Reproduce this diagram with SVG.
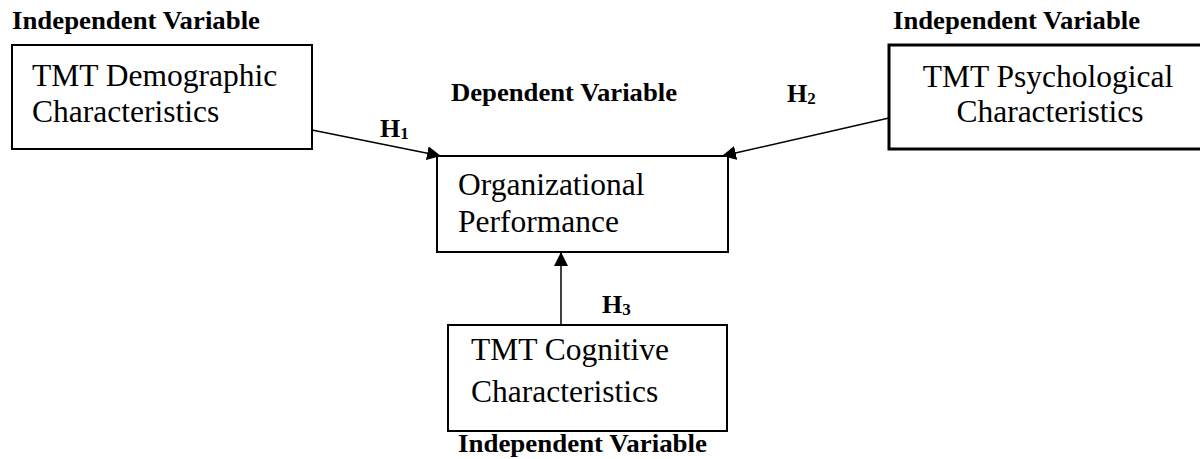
<svg xmlns="http://www.w3.org/2000/svg" width="1200" height="459" viewBox="0 0 1200 459">
<style>
.box{fill:#fff;stroke:#000;stroke-width:2}
.lbl{font-family:"Liberation Serif","Times New Roman",serif;font-size:31.5px;fill:#000}
.hd{font-family:"Liberation Serif","Times New Roman",serif;font-size:25.5px;font-weight:bold;fill:#000}
.h{font-family:"Liberation Serif","Times New Roman",serif;font-size:26px;font-weight:bold;fill:#000}
.sub{font-size:17px}
.conn{stroke:#000;stroke-width:1.5;fill:none}
</style>
<defs>
<marker id="arr" markerUnits="userSpaceOnUse" markerWidth="16" markerHeight="14" refX="14" refY="7" orient="auto">
<path d="M0,0 L14,7 L0,14 Z" fill="#000"/>
</marker>
</defs>
<g id="connectors">
<line class="conn" x1="312" y1="130" x2="441" y2="156" marker-end="url(#arr)"/>
<line class="conn" x1="889" y1="118" x2="722" y2="156" marker-end="url(#arr)"/>
<line class="conn" x1="561" y1="325" x2="561" y2="252" marker-end="url(#arr)"/>
</g>
<g id="demographic">
<rect class="box" x="12" y="45" width="300" height="104"/>
<text class="lbl" x="32" y="86">TMT Demographic</text>
<text class="lbl" x="32" y="122">Characteristics</text>
</g>
<g id="psychological">
<rect class="box" x="889" y="45" width="320" height="104" style="stroke-width:3"/>
<text class="lbl" x="1048" y="87" text-anchor="middle">TMT Psychological</text>
<text class="lbl" x="1050" y="122" text-anchor="middle">Characteristics</text>
</g>
<g id="performance">
<rect class="box" x="437" y="156" width="291" height="96"/>
<text class="lbl" x="458" y="195">Organizational</text>
<text class="lbl" x="458" y="232">Performance</text>
</g>
<g id="cognitive">
<rect class="box" x="448" y="325" width="279" height="106"/>
<text class="lbl" x="471" y="360">TMT Cognitive</text>
<text class="lbl" x="471" y="402">Characteristics</text>
</g>
<g id="labels">
<text class="hd" x="12" y="29" textLength="248" lengthAdjust="spacingAndGlyphs">Independent Variable</text>
<text class="hd" x="893" y="29" textLength="247" lengthAdjust="spacingAndGlyphs">Independent Variable</text>
<text class="hd" x="451" y="101" textLength="226" lengthAdjust="spacingAndGlyphs">Dependent Variable</text>
<text class="hd" x="458" y="452" textLength="249" lengthAdjust="spacingAndGlyphs">Independent Variable</text>
<text class="h" x="380" y="137">H<tspan class="sub" dy="2">1</tspan></text>
<text class="h" x="787" y="102">H<tspan class="sub" dy="2">2</tspan></text>
<text class="h" x="602" y="313">H<tspan class="sub" dy="2">3</tspan></text>
</g>
</svg>
